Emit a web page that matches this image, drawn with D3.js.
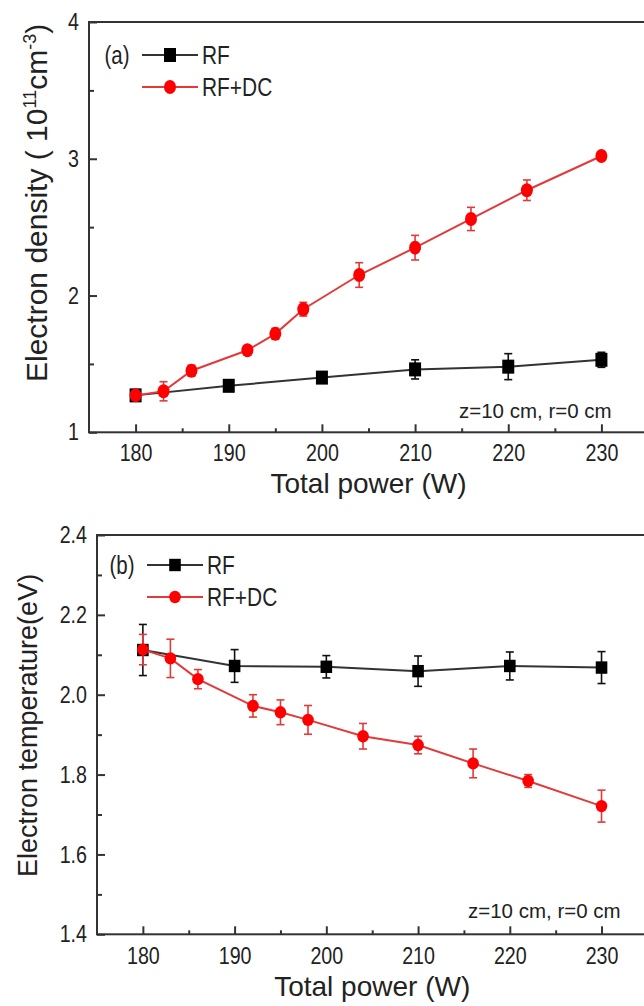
<!DOCTYPE html>
<html lang="en">
<head>
<meta charset="utf-8">
<script src="https://d3js.org/d3.v7.min.js"></script>
<style>
  body { margin: 0; background: #fff; }
  svg { display: block; }
</style>
</head>
<body>
<script>
// ---- data ----
var powerRF = [180, 190, 200, 210, 220, 230];
var powerDC = [180, 183, 186, 192, 195, 198, 204, 210, 216, 222, 230];

// (a) electron density, 10^11 cm^-3
var densityRF    = [1.27, 1.34, 1.40, 1.46, 1.48, 1.53];
var densityRFErr = [0.03, 0.04, 0.03, 0.07, 0.095, 0.055];
var densityDC    = [1.27, 1.30, 1.45, 1.60, 1.72, 1.90, 2.15, 2.35, 2.56, 2.77, 3.02];
var densityDCErr = [0.02, 0.07, 0.04, 0.03, 0.04, 0.05, 0.09, 0.09, 0.085, 0.075, 0.01];

// (b) electron temperature, eV
var tempRF    = [2.112, 2.072, 2.070, 2.059, 2.072, 2.068];
var tempRFErr = [0.064, 0.041, 0.028, 0.038, 0.035, 0.040];
var tempDC    = [2.113, 2.091, 2.039, 1.972, 1.956, 1.937, 1.896, 1.874, 1.828, 1.784, 1.721];
var tempDCErr = [0.038, 0.048, 0.024, 0.028, 0.031, 0.036, 0.032, 0.022, 0.036, 0.016, 0.040];

var xTicks = [180, 190, 200, 210, 220, 230];
var xMinor = [185, 195, 205, 215, 225];
var densityTicks = [1, 2, 3, 4];
var densityMinor = [1.5, 2.5, 3.5];
var tempTicks = [1.4, 1.6, 1.8, 2.0, 2.2, 2.4];
var tempMinor = [1.5, 1.7, 1.9, 2.1, 2.3];
var seriesNames = ["RF", "RF+DC"];

var font = "'Liberation Sans',Arial,sans-serif";
var squeeze = 0.82;   // the figure's labels are condensed
var axisColor = "#333";
var redLine = "#e23a3a";

var svg = d3.select("body").append("svg")
            .attr("width", 644)
            .attr("height", 1006);

// condensed text placed at (x, y)
function narrowText(g, x, y, size, str) {
  return g.append("text")
    .attr("transform", "translate(" + x + "," + y + ") scale(" + squeeze + ",1)")
    .style("font-family", font).style("font-size", size + "px").attr("fill", "#222")
    .text(str);
}

function panel(cfg) {
  var g = svg.append("g");
  var x = d3.scaleLinear().domain([175, 235]).range([cfg.left, cfg.right]);
  var y = d3.scaleLinear().domain(cfg.yDomain).range([cfg.bottom, cfg.top]);

  // frame
  g.append("rect")
    .attr("x", cfg.left).attr("y", cfg.top)
    .attr("width", cfg.right - cfg.left).attr("height", cfg.bottom - cfg.top)
    .attr("fill", "none").attr("stroke", axisColor).attr("stroke-width", 2);

  // x axis, ticks pointing inward
  var xa = g.append("g").attr("transform", "translate(0," + cfg.bottom + ")")
    .call(d3.axisBottom(x).tickValues(xTicks).tickSizeInner(-8).tickSizeOuter(0)
            .tickPadding(cfg.xPad).tickFormat(d3.format("d")));
  var xm = g.append("g").attr("transform", "translate(0," + cfg.bottom + ")")
    .call(d3.axisBottom(x).tickValues(xMinor).tickSize(-4).tickFormat(""));

  // y axis
  var ya = g.append("g").attr("transform", "translate(" + cfg.left + ",0)")
    .call(d3.axisLeft(y).tickValues(cfg.yTicks).tickSizeInner(-8).tickSizeOuter(0)
            .tickPadding(cfg.yPad).tickFormat(cfg.yFormat));
  var ym = g.append("g").attr("transform", "translate(" + cfg.left + ",0)")
    .call(d3.axisLeft(y).tickValues(cfg.yMinor).tickSize(-5).tickFormat(""));

  [xa, xm, ya, ym].forEach(function(a) {
    a.select(".domain").remove();
    a.selectAll(".tick line").attr("stroke", axisColor).attr("stroke-width", 2);
    a.selectAll(".tick text")
      .attr("fill", "#222")
      .style("font-family", font)
      .style("font-size", "24px")
      .attr("transform", "scale(" + squeeze + ",1)");
  });
  // keep the y labels' right edge where the padding puts it after squeezing
  ya.selectAll(".tick text").attr("x", -cfg.yPad / squeeze);

  // series
  var series = [
    {name: "RF", xs: powerRF, ys: cfg.rf, err: cfg.rfErr, color: "#000", line: axisColor, shape: "square"},
    {name: "RF+DC", xs: powerDC, ys: cfg.dc, err: cfg.dcErr, color: "#ff0000", line: redLine, shape: "circle"}
  ];

  var line = d3.line().x(function(d) { return x(d.p); }).y(function(d) { return y(d.v); });

  series.forEach(function(s) {
    var pts = s.xs.map(function(p, i) { return {p: p, v: s.ys[i], e: s.err[i]}; });
    var sg = g.append("g");

    sg.append("path").datum(pts)
      .attr("d", line).attr("fill", "none")
      .attr("stroke", s.line).attr("stroke-width", 2);

    // error bars
    var eb = sg.selectAll(".err").data(pts).enter().append("g").attr("class", "err")
      .attr("stroke", s.name === "RF" ? "#111" : redLine).attr("stroke-width", 1.6);
    eb.append("line")
      .attr("x1", function(d) { return x(d.p); }).attr("x2", function(d) { return x(d.p); })
      .attr("y1", function(d) { return y(d.v - d.e); }).attr("y2", function(d) { return y(d.v + d.e); });
    eb.append("line")
      .attr("x1", function(d) { return x(d.p) - 4; }).attr("x2", function(d) { return x(d.p) + 4; })
      .attr("y1", function(d) { return y(d.v + d.e); }).attr("y2", function(d) { return y(d.v + d.e); });
    eb.append("line")
      .attr("x1", function(d) { return x(d.p) - 4; }).attr("x2", function(d) { return x(d.p) + 4; })
      .attr("y1", function(d) { return y(d.v - d.e); }).attr("y2", function(d) { return y(d.v - d.e); });

    // markers
    if (s.shape === "square") {
      sg.selectAll(".mk").data(pts).enter().append("rect").attr("class", "mk")
        .attr("x", function(d) { return x(d.p) - cfg.mw; })
        .attr("y", function(d) { return y(d.v) - cfg.mh; })
        .attr("width", 2 * cfg.mw).attr("height", 2 * cfg.mh)
        .attr("fill", s.color);
    } else {
      sg.selectAll(".mk").data(pts).enter().append("ellipse").attr("class", "mk")
        .attr("cx", function(d) { return x(d.p); })
        .attr("cy", function(d) { return y(d.v); })
        .attr("rx", cfg.mw).attr("ry", cfg.mh)
        .attr("fill", s.color);
    }
  });

  // legend
  narrowText(g, cfg.legX - 25, cfg.legY + 9, 25, cfg.tag).attr("text-anchor", "middle");

  series.forEach(function(s, i) {
    var ly = cfg.legY + i * 32;
    g.append("line")
      .attr("x1", cfg.legX).attr("x2", cfg.legX + 56)
      .attr("y1", ly).attr("y2", ly)
      .attr("stroke", s.line).attr("stroke-width", 2);
    if (s.shape === "square") {
      g.append("rect").attr("x", cfg.legX + 28 - cfg.mw).attr("y", ly - cfg.mh)
        .attr("width", 2 * cfg.mw).attr("height", 2 * cfg.mh).attr("fill", s.color);
    } else {
      g.append("ellipse").attr("cx", cfg.legX + 28).attr("cy", ly)
        .attr("rx", cfg.mw).attr("ry", cfg.mh).attr("fill", s.color);
    }
    narrowText(g, cfg.legX + 60, ly + 9, 25.5, seriesNames[i]);
  });

  // condition note
  g.append("text")
    .attr("x", cfg.noteX).attr("y", cfg.noteY)
    .style("font-family", font).style("font-size", "20.5px").attr("fill", "#222")
    .text("z=10 cm, r=0 cm");

  // x title
  g.append("text")
    .attr("x", (cfg.left + cfg.right) / 2).attr("y", cfg.xTitleY)
    .attr("text-anchor", "middle")
    .style("font-family", font).style("font-size", "28px").attr("fill", "#222")
    .text("Total power (W)");

  // y title
  var yt = g.append("text")
    .attr("transform", "translate(" + cfg.yTitleX + "," + cfg.yTitleY + ") rotate(-90)")
    .attr("text-anchor", "start")
    .style("font-family", font).style("font-size", cfg.yTitleSize + "px").attr("fill", "#222");
  cfg.yTitle(yt);
}

panel({
  left: 89, right: 648, top: 22, bottom: 432.3,
  yDomain: [1, 4], yTicks: densityTicks, yMinor: densityMinor, yFormat: d3.format("d"),
  xPad: 12, yPad: 10,
  rf: densityRF, rfErr: densityRFErr, dc: densityDC, dcErr: densityDCErr,
  mw: 6, mh: 7,
  tag: "(a)", legX: 142, legY: 55,
  noteX: 459, noteY: 418,
  xTitleY: 492.5,
  yTitleX: 47, yTitleY: 382, yTitleSize: 30,
  yTitle: function(t) {
    t.append("tspan").text("Electron density ( 10");
    t.append("tspan").attr("dy", -11).style("font-size", "18px").text("11");
    t.append("tspan").attr("dy", 11).text("cm");
    t.append("tspan").attr("dy", -11).style("font-size", "18px").text("-3");
    t.append("tspan").attr("dy", 11).text(")");
  }
});

panel({
  left: 97, right: 647.4, top: 535, bottom: 934.3,
  yDomain: [1.4, 2.4], yTicks: tempTicks, yMinor: tempMinor, yFormat: d3.format(".1f"),
  xPad: 12.5, yPad: 10,
  rf: tempRF, rfErr: tempRFErr, dc: tempDC, dcErr: tempDCErr,
  mw: 5.8, mh: 6.2,
  tag: "(b)", legX: 147, legY: 565,
  noteX: 468, noteY: 918,
  xTitleY: 996,
  yTitleX: 37, yTitleY: 877, yTitleSize: 27,
  yTitle: function(t) {
    t.text("Electron temperature(eV)");
  }
});
</script>
</body>
</html>
